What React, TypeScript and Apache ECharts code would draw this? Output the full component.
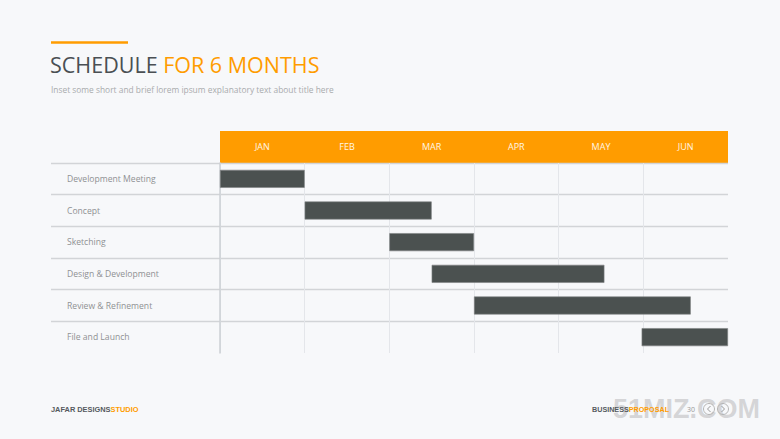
import React, { useEffect, useRef } from "react";
import * as echarts from "echarts";

const months = ["JAN", "FEB", "MAR", "APR", "MAY", "JUN"];
const tasks = [
  "Development Meeting",
  "Concept",
  "Sketching",
  "Design & Development",
  "Review & Refinement",
  "File and Launch",
];
const startMonth = [0, 1, 2, 2.5, 3, 4.98];
const endMonth = [1, 2.5, 3, 4.54, 5.56, 6];

const ORANGE = "#ff9c00";
const DARK = "#4b5150";
const FONT = "'Open Sans', 'Noto Sans', sans-serif";
const FOOT = "'Liberation Sans', Arial, sans-serif";

export default function App() {
  const ref = useRef<HTMLDivElement>(null);
  useEffect(() => {
    const chart = echarts.init(ref.current!, null, { renderer: "svg" });
    const duration = endMonth.map((e, i) => +(e - startMonth[i]).toFixed(3));
    chart.setOption({
      animation: false,
      backgroundColor: "#f7f8fa",
      grid: [
        { left: 220, right: 52, top: 163, bottom: 86 },
        { left: 51, width: 169, top: 163, bottom: 86 },
      ],
      xAxis: [
        {
          type: "value",
          gridIndex: 0,
          min: 0,
          max: 6,
          interval: 1,
          axisLabel: { show: false },
          axisLine: { show: false },
          axisTick: { show: false },
          splitLine: {
            show: true,
            showMaxLine: false,
            lineStyle: { color: "#e4e6ea", width: 1 },
          },
        },
        {
          type: "category",
          gridIndex: 0,
          position: "top",
          data: months,
          axisLine: { show: false },
          axisTick: { show: false },
          splitLine: { show: false },
          axisLabel: {
            color: "#fff6e6",
            fontSize: 9,
            fontFamily: FONT,
            margin: 12,
          },
        },
        { type: "value", gridIndex: 1, show: false, min: 0, max: 1 },
      ],
      yAxis: [
        {
          type: "category",
          gridIndex: 0,
          inverse: true,
          data: tasks,
          axisLabel: { show: false },
          axisTick: { show: false },
          axisLine: { show: true, lineStyle: { color: "#cdd0d5", width: 1.5 } },
          splitLine: {
            show: true,
            showMaxLine: false,
            lineStyle: { color: "#d2d4d7", width: 1.3 },
          },
        },
        {
          type: "category",
          gridIndex: 1,
          inverse: true,
          data: tasks,
          axisLabel: {
            inside: true,
            margin: 16,
            color: "#8f9193",
            fontSize: 8.6,
            fontFamily: FONT,
          },
          axisTick: { show: false },
          axisLine: { show: false },
          splitLine: {
            show: true,
            showMaxLine: false,
            lineStyle: { color: "#d2d4d7", width: 1.3 },
          },
        },
      ],
      series: [
        {
          type: "bar",
          name: "start",
          xAxisIndex: 0,
          yAxisIndex: 0,
          stack: "gantt",
          silent: true,
          barWidth: 18,
          itemStyle: { color: "transparent" },
          data: startMonth,
        },
        {
          type: "bar",
          name: "duration",
          xAxisIndex: 0,
          yAxisIndex: 0,
          stack: "gantt",
          barWidth: 18,
          itemStyle: { color: DARK, borderColor: "#7d8282", borderWidth: 0.6 },
          data: duration,
        },
      ],
      graphic: [
        {
          type: "rect",
          z: -1,
          shape: { x: 220, y: 131, width: 508, height: 32 },
          style: { fill: ORANGE },
        },
        {
          type: "rect",
          shape: { x: 51, y: 41.2, width: 77, height: 2.5 },
          style: { fill: ORANGE },
        },
        {
          type: "text",
          x: 50,
          y: 64,
          style: {
            text: "{a|SCHEDULE }{b|FOR 6 MONTHS}",
            verticalAlign: "middle",
            rich: {
              a: { fontSize: 21.5, fontFamily: FONT, fill: "#4a4f53", color: "#4a4f53" },
              b: { fontSize: 21.5, fontFamily: FONT, fill: ORANGE, color: ORANGE },
            },
          },
        },
        {
          type: "text",
          x: 51,
          y: 89,
          style: {
            text: "Inset some short and brief lorem ipsum explanatory text about title here",
            fontSize: 8.4,
            fontFamily: FONT,
            fill: "#a9abad",
            verticalAlign: "middle",
          },
        },
        {
          type: "text",
          x: 51,
          y: 409,
          style: {
            text: "{a|JAFAR DESIGNS}{b|STUDIO}",
            verticalAlign: "middle",
            rich: {
              a: { fontSize: 7.4, fontWeight: "bold", fontFamily: FOOT, fill: "#555a5e", color: "#555a5e" },
              b: { fontSize: 7.4, fontWeight: "bold", fontFamily: FOOT, fill: ORANGE, color: ORANGE },
            },
          },
        },
        {
          type: "text",
          x: 613,
          y: 409,
          z: 0,
          style: {
            text: "51MIZ.COM",
            fontSize: 27,
            fontWeight: "bold",
            fontFamily: FOOT,
            fill: "rgba(170,170,170,0.45)",
            verticalAlign: "middle",
          },
        },
        {
          type: "text",
          x: 592,
          y: 409,
          z: 2,
          style: {
            text: "{a|BUSINESS}{b|PROPOSAL}",
            verticalAlign: "middle",
            rich: {
              a: { fontSize: 7.2, fontWeight: "bold", fontFamily: FOOT, fill: "#555a5e", color: "#555a5e" },
              b: { fontSize: 7.2, fontWeight: "bold", fontFamily: FOOT, fill: ORANGE, color: ORANGE },
            },
          },
        },
        {
          type: "text",
          x: 687,
          y: 409,
          z: 2,
          style: {
            text: "30",
            fontSize: 7,
            fontFamily: FONT,
            fill: "#999",
            verticalAlign: "middle",
          },
        },
        {
          type: "circle",
          z: 2,
          shape: { cx: 709, cy: 409, r: 5.5 },
          style: { fill: "none", stroke: "#b5b5b5", lineWidth: 1 },
        },
        {
          type: "circle",
          z: 2,
          shape: { cx: 723, cy: 409, r: 5.5 },
          style: { fill: "none", stroke: "#b5b5b5", lineWidth: 1 },
        },
        {
          type: "polyline",
          z: 2,
          shape: { points: [[710.5, 406], [707.5, 409], [710.5, 412]] },
          style: { stroke: "#999", lineWidth: 1, fill: "none" },
        },
        {
          type: "polyline",
          z: 2,
          shape: { points: [[721.5, 406], [724.5, 409], [721.5, 412]] },
          style: { stroke: "#999", lineWidth: 1, fill: "none" },
        },
      ],
    });
    return () => chart.dispose();
  }, []);
  return (
    <div
      ref={ref}
      style={{ position: "fixed", left: 0, top: 0, width: 780, height: 439 }}
    />
  );
}
